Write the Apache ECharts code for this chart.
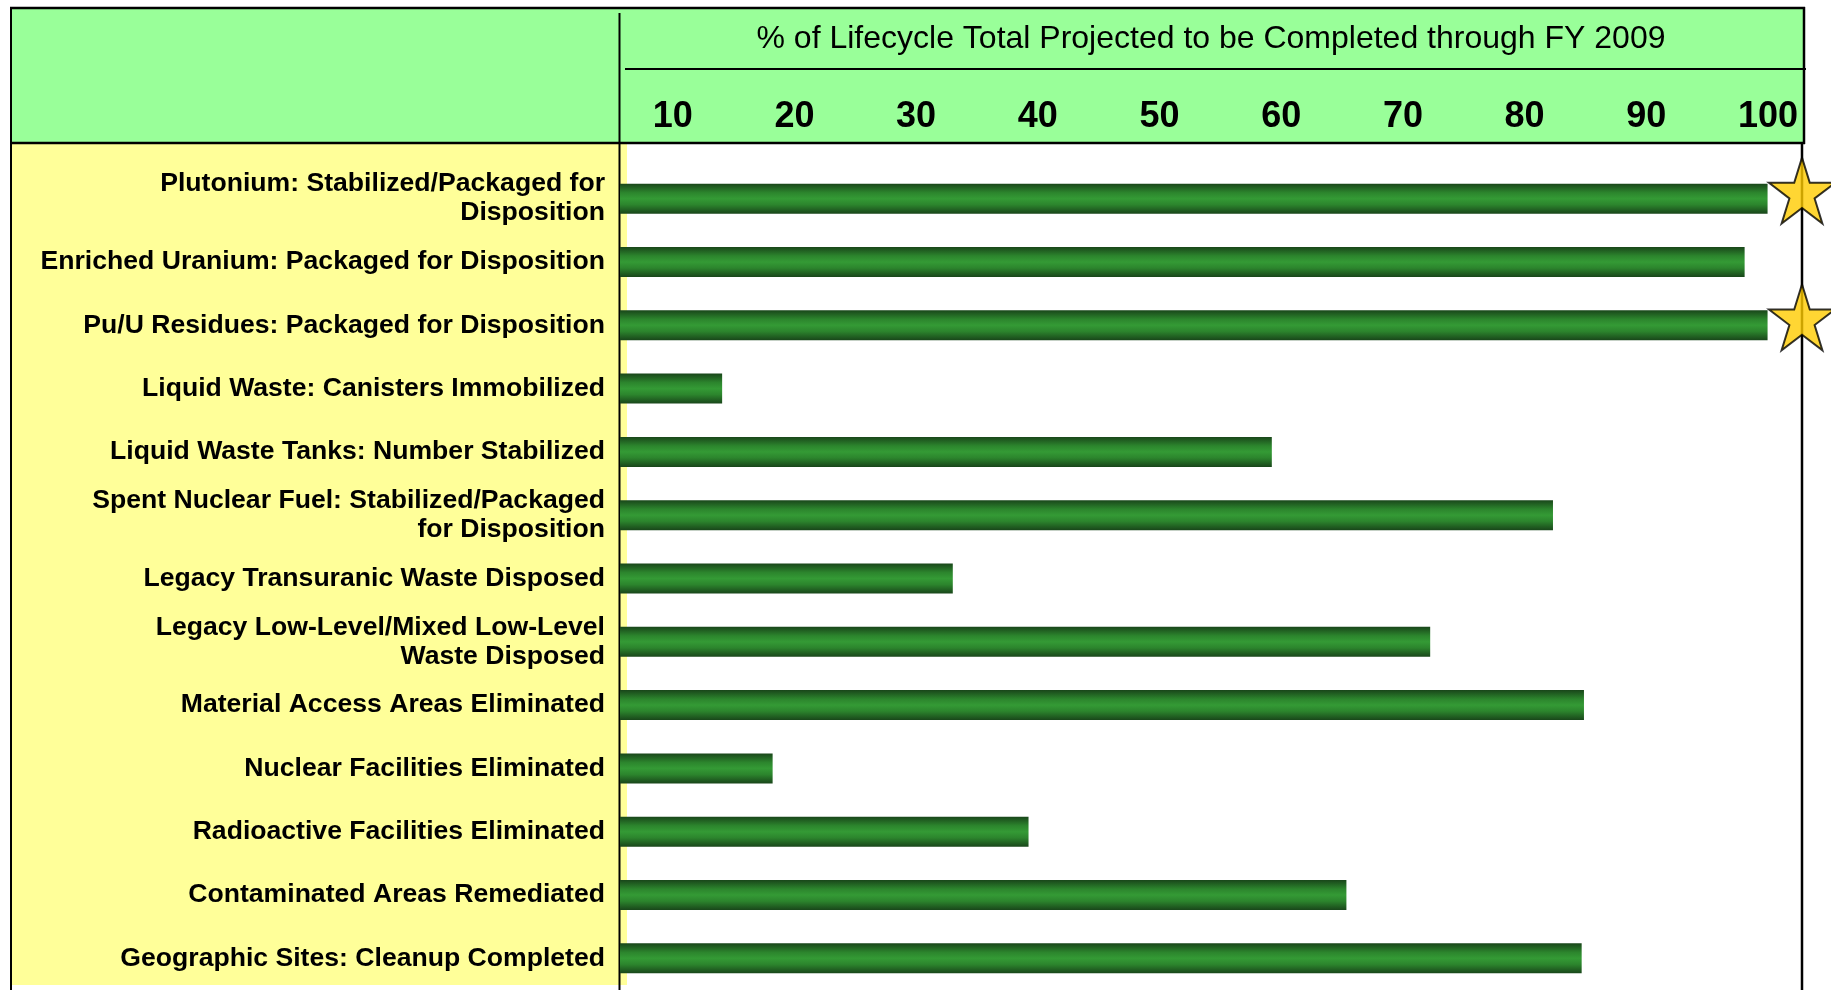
<!DOCTYPE html>
<html>
<head>
<meta charset="utf-8">
<script src="https://cdn.jsdelivr.net/npm/echarts@6/dist/echarts.min.js"></script>
<style>
html,body{margin:0;padding:0;background:#fff;}
#chart{width:1831px;height:990px;}
</style>
</head>
<body>
<div id="chart"></div>
<script>
// ---- data ----
const categories = [
  'Plutonium: Stabilized/Packaged for\nDisposition',
  'Enriched Uranium: Packaged for Disposition',
  'Pu/U Residues: Packaged for Disposition',
  'Liquid Waste: Canisters Immobilized',
  'Liquid Waste Tanks: Number Stabilized',
  'Spent Nuclear Fuel: Stabilized/Packaged\nfor Disposition',
  'Legacy Transuranic Waste Disposed',
  'Legacy Low-Level/Mixed Low-Level\nWaste Disposed',
  'Material Access Areas Eliminated',
  'Nuclear Facilities Eliminated',
  'Radioactive Facilities Eliminated',
  'Contaminated Areas Remediated',
  'Geographic Sites: Cleanup Completed'
];
const percentComplete = [100, 98.0, 100, 8.9, 56.8, 81.3, 29.0, 70.6, 84.0, 13.3, 35.6, 63.3, 83.8];
const completedRows = [
  'Plutonium: Stabilized/Packaged for\nDisposition',
  'Pu/U Residues: Packaged for Disposition'
];
const headerTickMin = 0;
const headerTickMax = 100;
const headerTickInterval = 10;
const titleText = '% of Lifecycle Total Projected to be Completed through FY 2009';
const barAxisMax = 103;

// ---- chart ----
const FONT = '"Liberation Sans", Arial, Helvetica, sans-serif';
const chart = echarts.init(document.getElementById('chart'), null, {renderer: 'canvas'});
const starPath = 'path://M50 0 L61.23 34.55 L97.55 34.55 L68.17 55.9 L79.39 90.45 L50 69.1 L20.61 90.45 L31.83 55.9 L2.45 34.55 L38.77 34.55 Z';

const barGradient = new echarts.graphic.LinearGradient(0, 0, 0, 1, [
  {offset: 0, color: '#19461a'},
  {offset: 0.3, color: '#2c852d'},
  {offset: 0.5, color: '#349a35'},
  {offset: 0.7, color: '#2c852d'},
  {offset: 1, color: '#19461a'}
]);

const option = {
  backgroundColor: '#ffffff',
  animation: false,
  textStyle: {fontFamily: FONT},
  grid: [
    {left: 620, right: 29, top: 167, bottom: 0, containLabel: false},
    {left: 551, right: 63, top: 90, height: 10, containLabel: false}
  ],
  xAxis: [
    {
      gridIndex: 0, type: 'value', min: 0, max: barAxisMax,
      show: false
    },
    {
      gridIndex: 1, type: 'value', min: headerTickMin, max: headerTickMax, interval: headerTickInterval,
      position: 'bottom',
      axisLine: {show: false}, axisTick: {show: false}, splitLine: {show: false},
      axisLabel: {
        show: true, showMinLabel: false, showMaxLabel: true,
        margin: 17, verticalAlign: 'middle',
        color: '#000', fontSize: 36, fontWeight: 'bold', fontFamily: FONT
      }
    }
  ],
  yAxis: [
    {
      gridIndex: 0, type: 'category', data: categories, inverse: true,
      axisLine: {show: false}, axisTick: {show: false}, splitLine: {show: false},
      axisLabel: {
        margin: 15, color: '#000', fontSize: 26.6, fontWeight: 'bold',
        fontFamily: FONT, lineHeight: 29, align: 'right'
      }
    },
    {gridIndex: 1, type: 'value', show: false}
  ],
  graphic: {
    elements: [
      {type: 'rect', z: 0, shape: {x: 11, y: 8, width: 1793, height: 135}, style: {fill: '#99FF99'}},
      {type: 'rect', z: 0, shape: {x: 11, y: 144, width: 616, height: 841}, style: {fill: '#FFFF99'}},
      {type: 'line', z: 1, shape: {x1: 10, y1: 8, x2: 1805, y2: 8}, style: {stroke: '#000', lineWidth: 2.5}},
      {type: 'line', z: 1, shape: {x1: 11, y1: 7, x2: 11, y2: 990}, style: {stroke: '#000', lineWidth: 2}},
      {type: 'line', z: 1, shape: {x1: 1804, y1: 7, x2: 1804, y2: 144}, style: {stroke: '#000', lineWidth: 2.5}},
      {type: 'line', z: 1, shape: {x1: 10, y1: 143, x2: 1805, y2: 143}, style: {stroke: '#000', lineWidth: 2.5}},
      {type: 'line', z: 1, shape: {x1: 619.5, y1: 13, x2: 619.5, y2: 990}, style: {stroke: '#000', lineWidth: 2}},
      {type: 'line', z: 1, shape: {x1: 625, y1: 69, x2: 1806, y2: 69}, style: {stroke: '#000', lineWidth: 2}},
      {type: 'line', z: 1, shape: {x1: 1802, y1: 143, x2: 1802, y2: 990}, style: {stroke: '#000', lineWidth: 2.5}},
      {type: 'text', z: 10, style: {
        text: titleText, x: 1211, y: 39.5, align: 'center', verticalAlign: 'middle',
        fontSize: 32, fontFamily: FONT, fill: '#000'
      }}
    ]
  },
  series: [
    {
      type: 'bar', xAxisIndex: 0, yAxisIndex: 0,
      data: percentComplete,
      barWidth: 30,
      itemStyle: {color: barGradient},
      silent: true, z: 3
    },
    {
      type: 'scatter', xAxisIndex: 0, yAxisIndex: 0,
      data: completedRows.map(c => [barAxisMax, c]),
      symbol: starPath,
      symbolSize: [66, 66],
      symbolOffset: [0, -8],
      clip: false,
      itemStyle: {color: '#FFCC00', borderColor: '#000', borderWidth: 2},
      silent: true, z: 5
    }
  ]
};
chart.setOption(option);
</script>
</body>
</html>
